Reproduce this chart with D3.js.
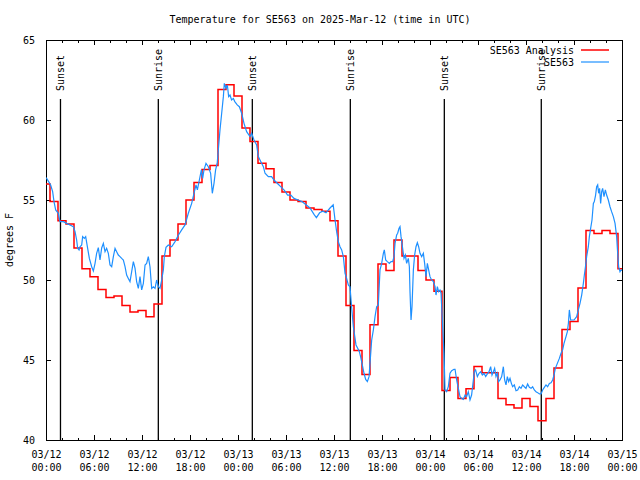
<!DOCTYPE html>
<html><head><meta charset="utf-8">
<script src="https://cdn.jsdelivr.net/npm/d3@7/dist/d3.min.js"></script>
<style>
body{margin:0;background:#fff}
text{font-family:"DejaVu Sans Mono","Liberation Mono",monospace;font-size:10px;fill:#000}
</style>
</head><body>
<svg id="chart" width="640" height="480"></svg>
<script>
// ---------- data ----------
const title = "Temperature for SE563 on 2025-Mar-12 (time in UTC)";
const yLabel = "degrees F";
const xMajorHours = [0,6,12,18,24,30,36,42,48,54,60,66,72];
const xTickDates = ["03/12","03/12","03/12","03/12","03/13","03/13","03/13","03/13","03/14","03/14","03/14","03/14","03/15"];
const xTickTimes = ["00:00","06:00","12:00","18:00","00:00","06:00","12:00","18:00","00:00","06:00","12:00","18:00","00:00"];
const xMinorHours = [2,4,8,10,14,16,20,22,26,28,32,34,38,40,44,46,50,52,56,58,62,64,68,70];
const yTicks = [40,45,50,55,60,65];
const sunHours = [1.81,14.04,25.79,38.04,49.79,61.91];
const sunLabels = ["Sunset","Sunrise","Sunset","Sunrise","Sunset","Sunrise"];
const seriesNames = ["SE563 Analysis","SE563"];

// hourly analysis (red)
const analysisHours = [0,1,2,3,4,5,6,7,8,9,10,11,12,13,14,15,16,17,18,19,20,21,22,23,24,25,26,27,28,29,30,31,32,33,34,35,36,37,38,39,40,41,42,43,44,45,46,47,48,49,50,51,52,53,54,55,56,57,58,59,60,61,62,63,64,65,66,67,68,69,70,71,72];
const analysisTemps = [56.0,54.9,53.7,53.5,52.0,50.7,50.2,49.4,48.9,49.0,48.4,48.0,48.1,47.7,48.5,51.5,52.5,53.5,55.0,56.1,
  56.9,57.15,61.9,62.2,61.5,59.5,58.65,57.3,56.95,56.1,55.5,55.0,54.9,54.5,54.4,54.3,53.7,51.5,48.4,45.6,
  44.1,47.2,51.0,50.6,52.5,51.5,51.5,50.6,50.0,49.3,43.1,43.9,42.6,43.2,44.6,44.2,44.2,42.6,42.2,42.0,
  42.6,42.1,41.2,42.6,44.5,46.9,47.4,49.5,53.1,52.9,53.1,52.9,50.7];

// station observations (blue)
const obsHours = [0.0,0.08,0.33,0.58,0.83,1.0,1.21,1.54,1.75,2.17,2.58,3.0,3.42,3.63,3.83,3.96,4.13,4.25,4.46,4.58,4.79,4.96,
  5.17,5.42,5.71,5.92,6.13,6.33,6.54,6.75,6.96,7.17,7.38,7.58,7.79,8.0,8.21,8.42,8.63,8.83,9.04,9.25,9.46,9.67,9.88,
  10.08,10.29,10.5,10.71,10.92,11.13,11.33,11.54,11.75,11.96,12.17,12.38,12.58,12.79,13.0,13.21,13.42,13.63,13.83,
  14.04,14.25,14.46,14.67,14.79,15.0,15.29,15.71,16.13,16.54,16.96,17.38,17.79,18.21,18.5,18.75,18.92,19.17,19.42,
  19.58,19.75,20.0,20.29,20.58,20.79,21.0,21.2,21.4,21.75,21.96,22.17,22.29,22.5,22.67,22.83,23.0,23.2,23.42,23.6,
  23.9,24.17,24.46,24.75,25.08,25.5,25.71,26.0,26.33,26.54,26.75,27.17,27.38,27.79,28.2,28.5,29.0,29.4,29.8,30.2,
  30.6,31.0,31.5,32.0,32.5,33.0,33.5,33.8,34.2,34.6,35.0,35.5,35.9,36.13,36.33,36.54,36.75,36.96,37.17,37.38,37.58,
  37.79,38.0,38.2,38.42,38.54,38.75,38.96,39.17,39.33,39.54,39.75,39.96,40.17,40.38,40.5,40.71,40.92,41.13,41.33,
  41.54,41.75,41.96,42.17,42.29,42.46,42.67,42.92,43.13,43.33,43.5,43.63,43.83,43.96,44.13,44.25,44.38,44.58,44.75,
  44.92,45.08,45.29,45.42,45.5,45.63,45.75,45.92,46.08,46.25,46.42,46.58,46.75,46.96,47.17,47.33,47.5,47.67,47.83,
  48.0,48.2,48.42,48.63,48.75,48.92,49.08,49.25,49.38,49.54,49.75,49.88,50.08,50.29,50.5,50.71,51.0,51.13,51.33,
  51.54,51.75,51.96,52.17,52.38,52.58,52.79,53.0,53.2,53.42,53.54,53.7,53.92,54.13,54.33,54.54,54.75,54.96,55.17,
  55.38,55.58,55.75,55.92,56.08,56.25,56.42,56.58,56.75,56.96,57.17,57.33,57.5,57.67,57.83,58.0,58.17,58.33,58.54,
  58.75,58.96,59.17,59.38,59.58,59.79,60.0,60.2,60.42,60.63,60.83,61.04,61.25,61.46,61.67,61.88,62.08,62.29,62.5,
  62.7,62.92,63.13,63.33,63.5,63.67,63.92,64.17,64.38,64.58,64.75,65.0,65.17,65.3,65.42,65.58,66.0,66.33,66.54,
  66.75,66.96,67.17,67.29,67.46,67.58,67.79,67.92,68.08,68.25,68.42,68.54,68.7,68.83,68.96,69.08,69.2,69.33,69.46,
  69.58,69.75,69.92,70.08,70.29,70.5,70.7,70.92,71.13,71.33,71.46,71.58,71.75,71.88,72.0];
const obsTemps = [56.4,56.35,56.15,55.94,55.52,54.9,54.38,54.17,53.65,53.65,53.54,53.44,53.33,53.02,52.5,51.98,51.88,52.08,52.19,52.71,52.6,52.71,
  52.08,51.35,50.83,50.56,51.04,51.67,52.02,51.25,52.0,52.29,51.77,51.98,51.67,50.94,50.83,51.46,51.98,51.77,51.56,51.46,51.35,51.25,50.83,
  50.31,50.1,49.9,50.52,51.15,50.73,49.9,49.48,50.21,49.38,49.79,50.94,51.04,51.46,50.83,49.48,49.58,49.48,50.0,
  49.58,49.48,50.0,50.63,51.46,52.04,52.19,52.08,52.4,52.8,53.13,53.44,54.17,54.79,55.42,55.94,55.63,56.25,56.88,
  56.35,56.88,57.29,57.08,56.67,55.42,56.04,56.88,57.3,59.38,60.42,61.46,62.29,61.98,62.19,61.46,61.56,61.25,61.35,61.15,
  60.94,60.83,60.42,59.79,59.27,58.96,59.17,58.75,58.44,57.71,57.5,57.08,56.67,56.46,56.46,56.25,56.0,55.8,55.6,55.3,
  55.3,55.1,55.0,54.9,54.7,54.5,54.1,53.9,54.2,54.3,54.2,54.5,54.7,53.75,53.02,52.4,52.08,51.88,51.46,50.42,50.1,
  49.69,49.58,48.33,47.08,46.67,45.94,45.73,45.52,45.2,44.69,44.17,43.79,43.65,43.96,44.79,46.25,46.88,47.71,48.33,
  48.44,50.63,51.04,51.67,51.88,51.25,51.15,51.04,51.15,51.15,51.46,52.29,52.81,52.92,53.23,53.33,52.71,51.98,51.35,
  51.56,51.04,51.35,50.83,49.27,47.5,48.33,50.63,51.56,52.08,52.33,52.08,51.67,51.46,51.67,51.04,50.21,51.04,50.63,
  50.21,50.0,49.9,49.58,49.06,49.58,49.27,49.38,49.17,47.5,45.42,43.13,43.02,43.33,44.17,44.33,44.42,44.42,43.75,
  43.23,42.71,42.6,42.54,42.81,42.71,43.02,42.5,42.81,43.75,44.27,44.38,43.96,44.17,44.27,44.06,44.17,43.96,44.13,
  44.27,44.58,44.06,44.27,44.48,43.96,44.17,43.65,43.75,43.96,44.58,43.75,43.44,43.96,43.65,43.85,43.54,43.33,43.44,
  43.08,43.13,43.33,43.23,43.44,43.33,43.23,43.5,43.29,43.23,43.33,43.13,43.02,42.96,42.88,42.88,43.13,43.29,43.44,
  43.33,43.54,43.58,43.75,44.06,44.48,44.79,45.1,45.42,45.63,46.04,46.46,46.77,47.3,48.13,47.5,47.5,47.71,48.13,
  48.54,49.06,49.79,50.3,50.94,51.46,52.08,52.71,53.23,53.75,54.79,54.9,55.31,55.83,55.94,55.42,55.73,54.79,55.52,
  55.73,55.21,55.63,55.31,55.0,54.58,54.27,53.96,53.54,52.71,51.67,50.83,50.52,50.63,50.6];

// ---------- drawing ----------
const svg = d3.select("#chart");
const L = 46, R = 622, T = 40, B = 440;
const x = d3.scaleLinear().domain([0,72]).range([L,R]);
const y = d3.scaleLinear().domain([40,65]).range([B,T]);
const red = "#ff0000", blue = "#1e90ff";

svg.append("rect").attr("width",640).attr("height",480).attr("fill","#fff");

svg.append("clipPath").attr("id","clip").append("rect")
  .attr("x",L).attr("y",T).attr("width",R-L).attr("height",B-T);

function styleAxis(g){ g.select(".domain").remove(); g.selectAll("line").attr("stroke","#000").attr("shape-rendering","crispEdges"); }

svg.append("g").attr("transform",`translate(0,${B})`)
  .call(d3.axisBottom(x).tickValues(xMinorHours).tickSize(-2.5).tickFormat(""))
  .call(styleAxis);
svg.append("g").attr("transform",`translate(0,${T})`)
  .call(d3.axisTop(x).tickValues(xMinorHours).tickSize(-2.5).tickFormat(""))
  .call(styleAxis);
const xb = svg.append("g").attr("transform",`translate(0,${B})`)
  .call(d3.axisBottom(x).tickValues(xMajorHours).tickSize(-5).tickPadding(0).tickFormat(""))
  .call(styleAxis);
xb.selectAll(".tick").each(function(d,i){
  const t = d3.select(this).append("text").attr("text-anchor","middle").attr("fill","#000")
    .style("font-family",'"DejaVu Sans Mono",monospace').style("font-size","10px");
  t.append("tspan").attr("x",0).attr("y",18).text(xTickDates[i]);
  t.append("tspan").attr("x",0).attr("y",31).text(xTickTimes[i]);
});
svg.append("g").attr("transform",`translate(0,${T})`)
  .call(d3.axisTop(x).tickValues(xMajorHours).tickSize(-5).tickFormat(""))
  .call(styleAxis);

const yl = svg.append("g").attr("transform",`translate(${L},0)`)
  .call(d3.axisLeft(y).tickValues(yTicks).tickSize(-5).tickPadding(11).tickFormat(d3.format("d")))
  .call(styleAxis);
yl.selectAll("text").attr("fill","#000").attr("dy","0.35em")
  .style("font-family",'"DejaVu Sans Mono",monospace').style("font-size","10px");
svg.append("g").attr("transform",`translate(${R},0)`)
  .call(d3.axisRight(y).tickValues(yTicks).tickSize(-5).tickFormat(""))
  .call(styleAxis);

svg.append("rect").attr("x",L).attr("y",T).attr("width",R-L).attr("height",B-T)
  .attr("fill","none").attr("stroke","#000").attr("stroke-width",1).attr("shape-rendering","crispEdges");

svg.append("text").attr("x",320).attr("y",23).attr("text-anchor","middle").text(title);
svg.append("text").attr("transform","translate(13,240) rotate(-90)").attr("text-anchor","middle").text(yLabel);

const plot = svg.append("g").attr("clip-path","url(#clip)");

sunHours.forEach((h,i)=>{
  plot.append("line").attr("x1",x(h)).attr("x2",x(h)).attr("y1",99).attr("y2",B)
    .attr("stroke","#000").attr("stroke-width",1.3);
  svg.append("text").attr("transform",`translate(${x(h)+3.5},91) rotate(-90)`)
    .attr("text-anchor","start").text(sunLabels[i]);
});

const analysis = analysisHours.map((h,i)=>[h,analysisTemps[i]]);
plot.append("path").datum(analysis)
  .attr("d", d3.line().x(d=>x(d[0])).y(d=>y(d[1])).curve(d3.curveStep))
  .attr("fill","none").attr("stroke",red).attr("stroke-width",1.5);

const obs = obsHours.map((h,i)=>[h,obsTemps[i]]);
plot.append("path").datum(obs)
  .attr("d", d3.line().x(d=>x(d[0])).y(d=>y(d[1])))
  .attr("fill","none").attr("stroke",blue).attr("stroke-width",1.2);

const leg = svg.append("g");
[red,blue].forEach((c,i)=>{
  const yy = 50 + i*12;
  leg.append("text").attr("x",574).attr("y",yy).attr("dy","0.35em").attr("text-anchor","end").text(seriesNames[i]);
  leg.append("line").attr("x1",581).attr("x2",609).attr("y1",yy).attr("y2",yy)
    .attr("stroke",c).attr("stroke-width",i===0?1.5:1.2);
});
</script>
</body></html>
